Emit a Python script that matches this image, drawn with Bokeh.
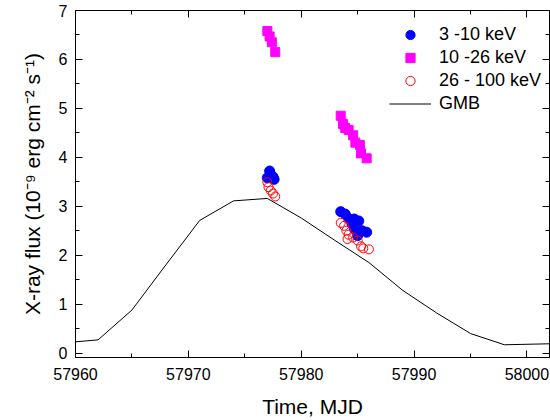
from bokeh.plotting import figure
from bokeh.models import LinearAxis, Range1d, Legend, LegendItem, FixedTicker
from bokeh.embed import file_html
from bokeh.resources import INLINE

# GMB model curve
gmb_t = [57960, 57962, 57965, 57968, 57971, 57974, 57977, 57980, 57983, 57986, 57989, 57992, 57995, 57998, 58002]
gmb_f = [0.23, 0.27, 0.88, 1.80, 2.71, 3.11, 3.16, 2.76, 2.30, 1.85, 1.28, 0.82, 0.40, 0.17, 0.19]

# 3-10 keV
b_t = [57977.0, 57977.2, 57977.3, 57977.5, 57977.6,
       57983.5, 57983.9, 57984.2, 57984.7, 57985.1, 57984.5, 57984.7, 57985.4, 57985.8, 57985.0]
b_f = [3.58, 3.72, 3.65, 3.60, 3.55,
       2.89, 2.84, 2.75, 2.74, 2.70, 2.64, 2.54, 2.50, 2.47, 2.40]

# 10-26 keV
m_t = [57977.0, 57977.2, 57977.4, 57977.7,
       57983.5, 57983.7, 57983.9, 57984.2, 57984.6, 57984.8, 57985.2, 57985.3, 57985.8]
m_f = [6.58, 6.47, 6.35, 6.15,
       4.85, 4.68, 4.60, 4.56, 4.45, 4.30, 4.25, 4.08, 3.98]

# 26-100 keV
r_t = [57977.0, 57977.1, 57977.3, 57977.5, 57977.7,
       57983.5, 57983.8, 57984.0, 57984.2, 57984.1, 57984.6, 57985.0, 57985.3, 57985.5, 57986.0]
r_f = [3.49, 3.39, 3.32, 3.26, 3.20,
       2.66, 2.60, 2.50, 2.42, 2.33, 2.36, 2.30, 2.18, 2.14, 2.12]

x_ticks = [57960, 57970, 57980, 57990, 58000]
x_minor = [57965, 57975, 57985, 57995]
y_ticks = [0, 1, 2, 3, 4, 5, 6, 7]
y_minor = [0.5, 1.5, 2.5, 3.5, 4.5, 5.5, 6.5]

FONT = "Liberation Sans"

p = figure(width=550, height=420, output_backend="svg", toolbar_location=None,
           x_range=Range1d(57960, 58002), y_range=Range1d(-0.09, 7.0),
           min_border_left=75, min_border_right=1, min_border_top=10, min_border_bottom=63,
           x_axis_label="Time, MJD",
           y_axis_label="X-ray flux (10\u207B\u2079 erg cm\u207B\u00B2 s\u207B\u00B9)")
p.xgrid.visible = False
p.ygrid.visible = False
p.outline_line_color = "black"
p.outline_line_width = 1

gl = p.line(gmb_t, gmb_f, line_color="black", line_width=1)
rb = p.scatter(b_t, b_f, marker="circle", size=10, fill_color="#0000FF", line_color="#0000FF")
rm = p.scatter(m_t, m_f, marker="square", size=9, fill_color="#FF00FF", line_color="#FF00FF")
rr = p.scatter(r_t, r_f, marker="circle", size=9, fill_color=None, line_color="#FF0000", line_width=1)

xa = p.xaxis[0]
ya = p.yaxis[0]
xa.ticker = FixedTicker(ticks=x_ticks, minor_ticks=x_minor)
ya.ticker = FixedTicker(ticks=y_ticks, minor_ticks=y_minor)
for ax in (xa, ya):
    ax.major_tick_in = 7
    ax.major_tick_out = 0
    ax.minor_tick_in = 4
    ax.minor_tick_out = 0
    ax.axis_line_color = "black"
    ax.major_label_text_font = FONT
    ax.major_label_text_font_size = "16px"
    ax.major_label_text_color = "black"
    ax.axis_label_text_font = FONT
    ax.axis_label_text_font_size = "21px"
    ax.axis_label_text_font_style = "normal"
    ax.axis_label_text_color = "black"
xa.major_label_standoff = 10
xa.axis_label_standoff = 12
ya.major_label_standoff = 8
ya.axis_label_standoff = 12

top = LinearAxis(ticker=FixedTicker(ticks=x_ticks, minor_ticks=x_minor))
right = LinearAxis(ticker=FixedTicker(ticks=y_ticks, minor_ticks=y_minor))
for ax in (top, right):
    ax.major_tick_in = 7
    ax.major_tick_out = 0
    ax.minor_tick_in = 4
    ax.minor_tick_out = 0
    ax.axis_line_color = "black"
    ax.major_label_text_font_size = "0px"
    ax.major_label_standoff = 0
    ax.major_label_text_color = None
p.add_layout(top, "above")
p.add_layout(right, "right")

legend = Legend(items=[
    LegendItem(label="3 -10 keV", renderers=[rb]),
    LegendItem(label="10 -26 keV", renderers=[rm]),
    LegendItem(label="26 - 100 keV", renderers=[rr]),
    LegendItem(label="GMB", renderers=[gl]),
], location=(314, 242))
legend.border_line_color = None
legend.background_fill_alpha = 0
legend.label_text_font = FONT
legend.label_text_font_size = "18px"
legend.label_text_color = "black"
legend.glyph_width = 42
legend.glyph_height = 23
legend.label_height = 23
legend.spacing = 0
legend.label_standoff = 8
legend.margin = 0
legend.padding = 0
p.add_layout(legend)

open("out.html", "w").write(file_html(p, INLINE))
